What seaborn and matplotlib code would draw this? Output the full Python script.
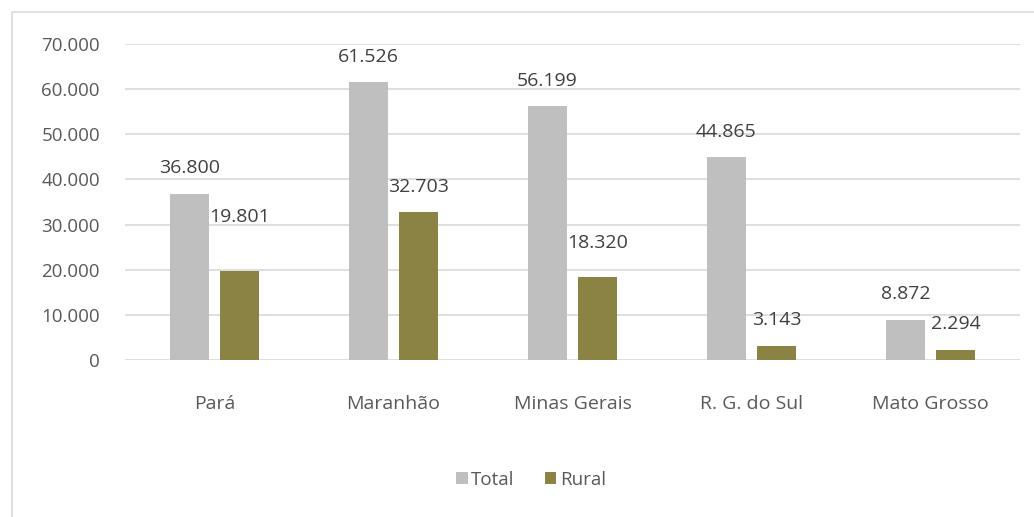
import pandas as pd
import matplotlib
matplotlib.use("Agg")
import matplotlib.pyplot as plt
from matplotlib.patches import Rectangle
from matplotlib.ticker import FuncFormatter
import seaborn as sns

estados = ['Pará', 'Maranhão', 'Minas Gerais', 'R. G. do Sul', 'Mato Grosso']
total = [36800, 61526, 56199, 44865, 8872]
rural = [19801, 32703, 18320, 3143, 2294]

# extra vertical nudge (points) for a few labels that sit higher in the original
nudge_total = [0, 0, 0, 0, 0]
nudge_rural = [20, 0, 6, 0, 0]

cores = {'Total': '#bfbfbf', 'Rural': '#8b8344'}


def fmt_br(v):
    return f"{int(round(v)):,}".replace(",", ".")


def main():
    df = pd.DataFrame({
        'estado': estados * 2,
        'valor': total + rural,
        'tipo': ['Total'] * len(estados) + ['Rural'] * len(estados),
    })

    sns.set_theme(style='white')
    plt.rcParams['font.family'] = ['Open Sans', 'DejaVu Sans']

    fig = plt.figure(figsize=(10.34, 5.17), dpi=100)
    ax = fig.add_axes([125 / 1034, 1 - 360 / 517, 895 / 1034, 316 / 517])

    sns.barplot(data=df, x='estado', y='valor', hue='tipo', palette=cores,
                width=0.56, gap=0.22, saturation=1, linewidth=0, ax=ax, legend=True)

    ax.set_ylim(0, 70000)
    ax.set_xlim(-0.5, len(estados) - 0.5)
    ax.set_yticks(range(0, 70001, 10000))
    ax.yaxis.set_major_formatter(FuncFormatter(lambda v, p: fmt_br(v)))
    ax.grid(axis='y', color='#d9d9d9', linewidth=1.2)
    ax.set_axisbelow(True)
    for s in ax.spines.values():
        s.set_visible(False)
    ax.set_xlabel('')
    ax.set_ylabel('')
    ax.tick_params(axis='y', length=0, pad=18, labelsize=13.5, labelcolor='#595959')
    ax.tick_params(axis='x', length=0, pad=25, labelsize=14, labelcolor='#595959')

    for cont, nudges in zip(ax.containers, [nudge_total, nudge_rural]):
        for bar, nd in zip(cont, nudges):
            h = bar.get_height()
            ax.annotate(fmt_br(h), (bar.get_x() + bar.get_width() / 2, h),
                        xytext=(0, 12 + nd), textcoords='offset points',
                        ha='center', va='bottom', fontsize=14,
                        color='#404040', annotation_clip=False)

    handles, labels = ax.get_legend_handles_labels()
    ax.get_legend().remove()
    fig.legend(handles, labels, loc='center', bbox_to_anchor=(531 / 1034, 1 - 480 / 517),
               ncol=2, frameon=False, fontsize=13.5, handlelength=0.6,
               handleheight=0.6, handletextpad=0.2, columnspacing=1.6,
               labelcolor='#595959')

    fig.patches.append(Rectangle((12 / 1034, -0.05), 1.1, 1 - 12 / 517 + 0.05,
                                 transform=fig.transFigure, fill=False,
                                 edgecolor='#d9d9d9', linewidth=1.2))

    fig.savefig('out.png', dpi=100)


if __name__ == "__main__":
    main()
